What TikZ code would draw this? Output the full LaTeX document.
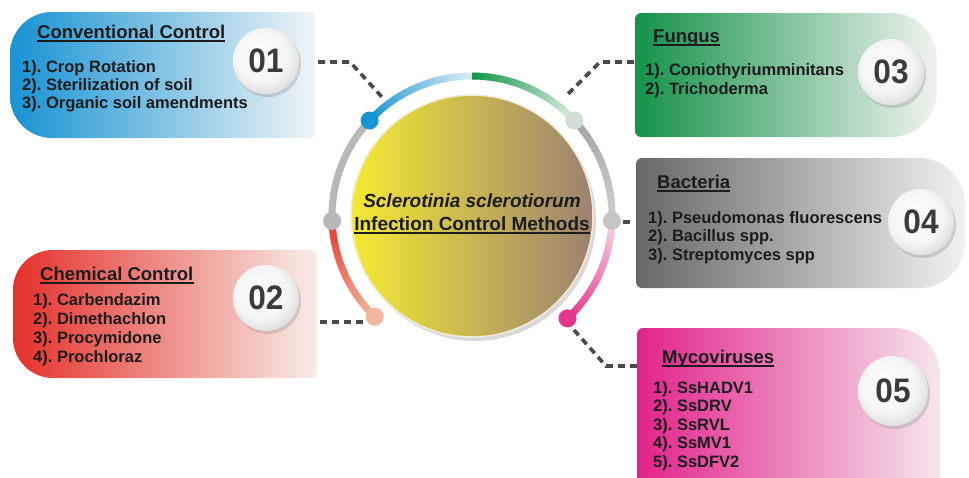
\documentclass[tikz,border=0pt]{standalone}
\usepackage{fontspec}
\setmainfont{Liberation Sans}
\usetikzlibrary{calc,shadows}
\definecolor{txt}{HTML}{1C1C1C}
\definecolor{numtxt}{HTML}{3E3A3A}
\definecolor{numedge}{HTML}{D9D7D7}
\definecolor{dashc}{HTML}{4A4A4A}
\definecolor{blueA}{HTML}{1695D4}
\definecolor{blueL}{HTML}{DCEBF4}
\definecolor{greenA}{HTML}{13964A}
\definecolor{greenL}{HTML}{E0EEE2}
\definecolor{redA}{HTML}{E53A2C}
\definecolor{peach}{HTML}{F3B7A0}
\definecolor{pinkA}{HTML}{E4358B}
\definecolor{pinkL}{HTML}{F6D7E3}
\definecolor{grayA}{HTML}{A4A4A4}
\definecolor{grayL}{HTML}{CFCFCF}
\definecolor{grayM}{HTML}{B8B8B8}
\definecolor{hubY}{HTML}{F5EA33}
\definecolor{hubM}{HTML}{D2B95C}
\definecolor{hubB}{HTML}{9B8170}
\definecolor{cream}{HTML}{F3EBD6}
\definecolor{b1A}{HTML}{1793D3}
\definecolor{b1B}{HTML}{F0F4F7}
\definecolor{b2A}{HTML}{E5302A}
\definecolor{b2M}{HTML}{EC8468}
\definecolor{b2B}{HTML}{F8EDE8}
\definecolor{b3A}{HTML}{14924A}
\definecolor{b3B}{HTML}{F0F3EE}
\definecolor{b4A}{HTML}{686868}
\definecolor{b4B}{HTML}{F1F1F1}
\definecolor{b5A}{HTML}{E2238A}
\definecolor{b5B}{HTML}{F6E6EE}
\pgfdeclareradialshading{numshade}{\pgfpoint{-6bp}{7bp}}{color(0bp)=(white); color(20bp)=(white!96!black); color(32bp)=(numedge); color(50bp)=(numedge)}
% left-rounded box: x1 y1 x2 y2 R r
\newcommand\lbox[6]{(#1+#5,#2) -- (#3-#6,#2) arc[start angle=270,end angle=360,radius=#6]
  -- (#3,#4-#6) arc[start angle=0,end angle=90,radius=#6]
  -- (#1+#5,#4) arc[start angle=90,end angle=180,radius=#5]
  -- (#1,#2+#5) arc[start angle=180,end angle=270,radius=#5] -- cycle}
% right-rounded box
\newcommand\rbox[6]{(#1+#6,#2) -- (#3-#5,#2) arc[start angle=270,end angle=360,radius=#5]
  -- (#3,#4-#5) arc[start angle=0,end angle=90,radius=#5]
  -- (#1+#6,#4) arc[start angle=90,end angle=180,radius=#6]
  -- (#1,#2+#6) arc[start angle=180,end angle=270,radius=#6] -- cycle}
% gradient arc around C: start angle, end angle, colour at start, colour at end
\newcommand\gradarc[4]{%
  \foreach \k in {0,...,39}{%
    \pgfmathsetmacro\sa{#1+(#2-#1)*\k/40}%
    \pgfmathsetmacro\ea{#1+(#2-#1)*(\k+1.3)/40}%
    \pgfmathsetmacro\pp{100-100*\k/39}%
    \draw[line width=7, color=#3!\pp!#4] (C) ++(\sa:140) arc[start angle=\sa, end angle=\ea, radius=140];
  }}
\frenchspacing
\begin{document}
\begin{tikzpicture}[x=1pt,y=-1pt,
  ttl/.style={font=\fontsize{18.5}{20}\selectfont\bfseries, text=txt, anchor=base west, inner sep=0},
  itm/.style={font=\fontsize{16.5}{18}\selectfont\bfseries, text=txt, anchor=base west, inner sep=0},
  numball/.style={circle, minimum size=66, inner sep=0, shading=numshade,
    drop shadow={shadow xshift=2pt, shadow yshift=-3pt, opacity=0.28},
    font=\fontsize{34}{34}\selectfont\bfseries, text=numtxt},
  arcdot/.style={circle, minimum size=18, inner sep=0},
  dashconn/.style={draw=dashc, line width=3.6, dash pattern=on 7pt off 5pt},
  ulin/.style={line width=1.4, draw=txt}]
\useasboundingbox (0,0) rectangle (969,477);
\clip (0,0) rectangle (969,477);

% ---------- boxes ----------
\shade[left color=b1A, middle color=b1A!60!b1B, right color=b1B] \lbox{10}{12}{315}{138}{42}{6};
\shade[left color=b2A, middle color=b2M, right color=b2B] \lbox{13}{250}{317}{378}{40}{6};
\shade[left color=b3A, middle color=b3A!50!b3B, right color=b3B] \rbox{635}{13}{937}{137}{46}{6};
\shade[left color=b4A, middle color=b4A!50!b4B, right color=b4B] \rbox{636}{158}{965}{288}{46}{6};
\shade[left color=b5A, middle color=b5A!50!b5B, right color=b5B] \rbox{637}{328}{940}{540}{46}{6};

% ---------- hub ----------
\coordinate (C) at (472,216);
\node[circle, minimum size=242, inner sep=0, left color=hubY, middle color=hubM, right color=hubB,
  draw=cream, line width=1.5, drop shadow={shadow xshift=3pt, shadow yshift=-4pt, opacity=0.3}] (hub) at (C) {};

% ---------- ring ----------
\gradarc{178}{223}{grayM}{grayM}
\gradarc{317}{362}{grayA}{grayL}
\gradarc{223}{270}{blueA}{blueL}
\gradarc{270}{317}{greenA}{greenL}
\gradarc{178}{134}{redA}{peach}
\gradarc{2}{47}{pinkL}{pinkA}

\node[arcdot, fill=blueA] (d1) at ($(C)+(223:140)$) {};
\node[arcdot, fill=greenL!85!gray] (d3) at ($(C)+(317:140)$) {};
\node[arcdot, fill=grayM] (dl) at ($(C)+(178:140)$) {};
\node[arcdot, fill=grayL!95!black] (d4) at ($(C)+(2:140)$) {};
\node[arcdot, fill=peach] (d2) at ($(C)+(134:140)$) {};
\node[arcdot, fill=pinkA] (d5) at ($(C)+(47:140)$) {};

% ---------- hub text ----------
\node[font=\fontsize{19}{21}\selectfont\bfseries\itshape, text=txt, anchor=base, inner sep=0] (h1) at (472,207) {Sclerotinia sclerotiorum};
\node[font=\fontsize{19}{21}\selectfont\bfseries, text=txt, anchor=base, inner sep=0] (h2) at (472,230) {Infection Control Methods};
\draw[ulin] ([yshift=-3pt]h2.base west) -- ([yshift=-3pt]h2.base east);

% ---------- number balls ----------
\node[numball] (n1) at (266,61) {\scalebox{0.93}[1]{01}};
\node[numball] (n2) at (266,298) {\scalebox{0.93}[1]{02}};
\node[numball] (n3) at (891,72) {\scalebox{0.93}[1]{03}};
\node[numball] (n4) at (921,222) {\scalebox{0.93}[1]{04}};
\node[numball, minimum size=70] (n5) at (893,391) {\scalebox{0.93}[1]{05}};

% ---------- box texts ----------
\node[ttl] (t1) at (37,38) {Conventional Control};
\foreach \t [count=\i] in {1). Crop Rotation, 2). Sterilization of soil, 3). Organic soil amendments}
  \node[itm] (a\i) at (22,{72+18*(\i-1)}) {\t};

\node[ttl] (t2) at (40,280) {Chemical Control};
\foreach \t [count=\i] in {1). Carbendazim, 2). Dimethachlon, 3). Procymidone, 4). Prochloraz}
  \node[itm] (b\i) at (33,{305+19*(\i-1)}) {\t};

\node[ttl] (t3) at (653,42) {Fungus};
\foreach \t [count=\i] in {1). Coniothyriumminitans, 2). Trichoderma}
  \node[itm] (c\i) at (645,{75+19*(\i-1)}) {\t};

\node[ttl] (t4) at (657,188) {Bacteria};
\foreach \t [count=\i] in {1). Pseudomonas fluorescens, 2). Bacillus spp., 3). Streptomyces spp}
  \node[itm] (e\i) at (648,{223+18.5*(\i-1)}) {\t};

\node[ttl] (t5) at (662,363) {Mycoviruses};
\foreach \t [count=\i] in {1). SsHADV1, 2). SsDRV, 3). SsRVL, 4). SsMV1, 5). SsDFV2}
  \node[itm] (f\i) at (653,{393+18.5*(\i-1)}) {\t};

\foreach \n in {t1,t2,t3,t4,t5}
  \draw[ulin] ([yshift=-3pt]\n.base west) -- ([yshift=-3pt]\n.base east);

% ---------- connectors ----------
\coordinate (p1a) at (318,62);
\coordinate (p1b) at (350,62);
\coordinate (p1c) at (382,97);
\draw[dashconn] (p1a) -- (p1b) -- (p1c);

\coordinate (p3a) at (634,62);
\coordinate (p3b) at (600,62);
\coordinate (p3c) at (565,97);
\draw[dashconn] (p3a) -- (p3b) -- (p3c);

\coordinate (p4a) at (623,222);
\coordinate (p4b) at (630,222);
\draw[draw=dashc, line width=3.6] (p4a) -- (p4b);

\coordinate (p2a) at (320,322);
\coordinate (p2b) at (364,322);
\draw[dashconn] (p2a) -- (p2b);

\coordinate (p5a) at (574,330);
\coordinate (p5b) at (606,366);
\coordinate (p5c) at (638,366);
\draw[dashconn] (p5a) -- (p5b) -- (p5c);
\end{tikzpicture}
\end{document}
